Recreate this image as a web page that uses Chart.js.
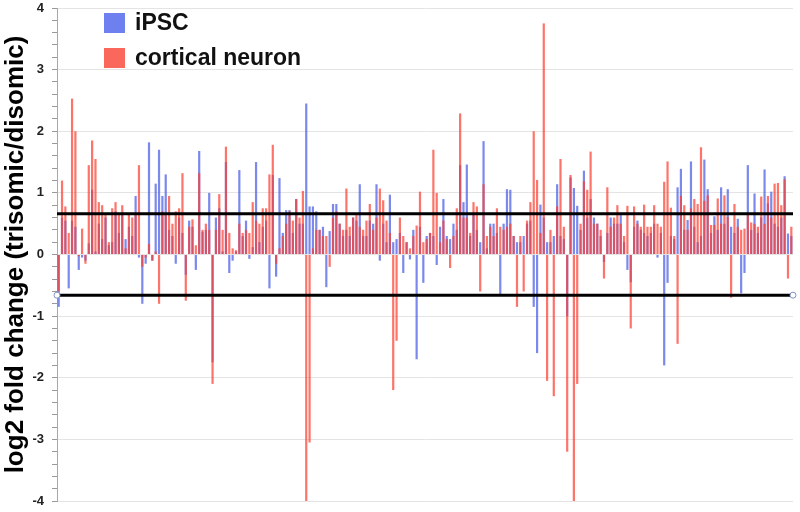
<!DOCTYPE html>
<html>
<head>
<meta charset="utf-8">
<script src="https://cdn.jsdelivr.net/npm/chart.js@4.4.1/dist/chart.umd.min.js"></script>
<style>
  html, body { margin: 0; padding: 0; background: #ffffff; }
  #wrap { position: relative; width: 800px; height: 512px; }
</style>
</head>
<body>
<div id="wrap"><canvas id="c" width="800" height="512"></canvas></div>
<script>
// ---- data ----
const seriesNames = ["iPSC", "cortical neuron"];

const ipsc = [
  -0.85, 0.6, 0.55, -0.55, 0.55, 0.45, -0.25, -0.05, -0.1, 0.18,
  1.05, 0.05, 0.5, 0.25, 0.6, 0.15, 0.2, 0.7, 0.35, 0.65,
  0.25, 0.45, 0.3, 0.95, -0.05, -0.8, -0.15, 1.82, -0.1, 1.15,
  1.7, 0.95, 1.3, 0.4, 0.3, -0.15, 0.6, 0.35, -0.33, 0.55,
  0.45, -0.25, 1.68, 0.37, 0.4, 1.0, -1.75, 0.6, 0.75, 0.05,
  1.5, -0.3, -0.1, 0.05, 1.37, 0.3, 0.55, -0.07, 0.12, 1.5,
  0.2, 0.45, 0.55, -0.55, 1.29, -0.36, 1.24, 0.35, 0.72, 0.72,
  0.35, 0.9, 0.5, 0.5, 2.45, 0.78, 0.78, 0.7, 0.4, 0.45,
  -0.53, 0.38, 0.82, 0.82, 0.5, 0.3, 0.4, 0.3, 0.6, 0.55,
  1.14, 0.3, 0.3, 0.55, 0.5, 1.14, -0.1, 0.5, 0.2, 0.97,
  0.2, 0.25, 0.35, -0.3, 0.2, -0.08, 0.4, -1.7, 0.45, -0.46,
  0.3, 0.35, 0.3, -0.17, 0.45, 0.9, 0.3, 0.25, 0.5, 0.4,
  1.45, 0.85, 1.46, 0.3, 0.65, 0.4, 0.2, 1.84, 0.1, 0.5,
  0.5, 0.35, -0.65, 0.5, 1.06, 1.05, 0.3, 0.2, 0.2, 0.3,
  0.5, 0.55, -0.85, -1.6, 0.81, 0.6, 0.2, 0.2, 0.3, 1.14,
  0.3, 0.25, -1.0, 1.25, 1.08, 0.79, 0.4, 1.36, 0.6, 0.9,
  0.6, 0.5, 0.3, -0.12, 0.35, 0.6, 0.5, 0.5, 0.64, 0.2,
  -0.25, -0.45, 0.45, 0.55, 0.4, 0.35, 0.3, 0.35, 0.5, -0.05,
  0.35, -1.8, -0.46, 0.3, 0.25, 1.09, 1.39, 0.4, 0.56, 1.51,
  0.45, 0.2, 0.3, 1.54, 1.06, 0.35, 0.62, 0.4, 1.09, 0.5,
  1.06, 0.45, 0.35, 0.58, -0.63, -0.3, 1.45, 0.4, 0.99, 0.35,
  0.6, 1.38, 0.83, 1.02, 0.5, 0.45, 0.6, 1.27, 0.34, 0.3
];

const corticalNeuron = [
  -0.6, 1.2, 0.78, 0.35, 2.53, 2.0, -0.03, 0.42, -0.15, 1.45,
  1.85, 1.55, 0.85, 0.8, 0.65, 0.2, 0.75, 0.85, 0.65, 0.8,
  0.1, 0.65, 0.6, 0.65, 1.45, -0.2, -0.05, 0.17, -0.1, 0.05,
  -0.8, 0.7, 0.65, 0.95, 0.5, 0.7, 0.75, 1.32, -0.75, 0.45,
  0.57, 0.15, 1.32, 0.4, 0.5, 0.4, -2.1, 0.4, 0.98, 0.4,
  1.75, 0.35, 0.1, 0.07, 0.5, 0.35, 0.4, 0.35, 0.85, 0.55,
  0.5, 0.75, 0.75, 1.3, 1.78, -0.15, 0.1, 0.3, 0.5, 0.7,
  0.55, 0.9, 0.6, 1.03, -4.0, -3.05, 0.1, 0.4, 0.4, 0.3,
  0.3, -0.2, 0.6, 0.7, 0.5, 0.4, 1.07, 0.45, 0.6, 0.65,
  0.45, 0.4, 0.55, 0.82, 0.4, 0.6, 1.07, 0.88, 0.55, 0.35,
  -2.2, -1.4, 0.6, 0.3, 0.2, 0.1, 0.3, 0.47, 1.02, 0.2,
  0.25, 0.35, 1.7, 1.0, 0.2, 0.55, 0.25, -0.22, 0.3, 0.75,
  2.29, 0.6, 0.6, 0.35, 0.85, 0.78, -0.6, 1.14, 0.3, 0.45,
  0.3, 0.75, 0.45, 0.4, 0.45, 0.5, 0.3, -0.85, 0.3, -0.6,
  0.55, 0.85, 2.0, 1.21, 0.35, 3.75, -2.05, 0.4, -2.3, 0.78,
  1.55, 0.45, -3.2, 1.29, -4.0, -2.1, 0.5, 1.19, 1.05, 1.67,
  0.5, 0.5, 0.4, -0.39, 1.09, 0.45, 0.6, 0.8, 0.5, 0.3,
  0.79, -1.2, 0.78, 0.5, 0.45, 0.81, 0.45, 0.45, 0.8, 0.5,
  0.45, 1.18, 1.51, 0.76, 0.3, -1.45, 0.95, 0.8, 0.4, 0.75,
  0.9, 0.82, 1.74, 0.87, 0.96, 0.48, 0.48, 0.91, 0.5, 0.96,
  0.61, -0.7, 0.82, 0.45, 0.4, 0.42, 0.64, 0.52, 0.5, 0.45,
  0.94, 0.5, 0.95, 0.6, 1.15, 1.16, 0.8, 1.22, -0.39, 0.45
];

const categories = ipsc.map((_, i) => "gene " + (i + 1));
const thresholds = [0.66, -0.66];
const yTickRange = [-4, 4];

// ---- styles ----
const blueFill = "rgba(72, 92, 228, 0.72)";
const redFill = "rgba(252, 62, 48, 0.72)";

const legendPlugin = {
  id: "customLegend",
  afterDraw(chart) {
    const ctx = chart.ctx;
    const items = [
      { label: seriesNames[0], color: "rgb(110,128,240)", y: 23 },
      { label: seriesNames[1], color: "rgb(250,104,92)", y: 58 }
    ];
    ctx.save();
    ctx.font = "bold 23px 'Liberation Sans', Arial, sans-serif";
    ctx.textBaseline = "middle";
    ctx.textAlign = "left";
    items.forEach(it => {
      ctx.fillStyle = it.color;
      ctx.fillRect(104, it.y - 10, 21, 20);
      ctx.fillStyle = "#111111";
      ctx.fillText(it.label, 135, it.y + 1);
    });
    ctx.restore();
  }
};

const isInt = v => Math.abs(v - Math.round(v)) < 1e-6;

new Chart(document.getElementById("c"), {
  type: "bar",
  data: {
    labels: categories,
    datasets: [
      {
        type: "line", label: "upper", xAxisID: "x2", order: 0,
        data: [{ x: 0, y: thresholds[0] }, { x: 1, y: thresholds[0] }],
        borderColor: "#000000", borderWidth: 3, pointRadius: 0, clip: false
      },
      {
        type: "line", label: "lower", xAxisID: "x2", order: 0,
        data: [{ x: 0, y: thresholds[1] }, { x: 1, y: thresholds[1] }],
        borderColor: "#000000", borderWidth: 3,
        pointRadius: 3, pointBorderWidth: 1,
        pointBorderColor: "#7f93c8", pointBackgroundColor: "#ffffff", clip: false
      },
      {
        label: seriesNames[1], data: corticalNeuron, order: 1,
        backgroundColor: redFill, grouped: false,
        barPercentage: 0.66, categoryPercentage: 1.0
      },
      {
        label: seriesNames[0], data: ipsc, order: 2,
        backgroundColor: blueFill, grouped: false,
        barPercentage: 0.66, categoryPercentage: 1.0
      }
    ]
  },
  options: {
    responsive: false,
    animation: false,
    layout: { padding: { top: 8, right: 7, bottom: 11, left: 0 } },
    plugins: { legend: { display: false }, tooltip: { enabled: false } },
    scales: {
      x: { type: "category", display: false, offset: true },
      x2: { type: "linear", display: false, min: 0, max: 1, offset: false },
      y: {
        min: yTickRange[0], max: yTickRange[1],
        afterFit(axis) {
          axis.width = 57;
          axis.paddingTop = 0;
          axis.paddingBottom = 0;
        },
        ticks: {
          stepSize: 0.2, autoSkip: false, padding: 8,
          color: "#222222",
          font: { family: "'Liberation Sans', Arial, sans-serif", size: 13, weight: "bold" },
          callback: v => isInt(v) ? String(Math.round(v)) : ""
        },
        grid: {
          color: ctx => isInt(ctx.tick.value) ? "#e4e4e4" : "rgba(0,0,0,0)",
          tickColor: "#9a9a9a",
          tickLength: 5,
          lineWidth: 1
        },
        border: { display: true, color: "#a8a8a8", width: 1 },
        title: {
          display: true,
          text: "log2 fold change (trisomic/disomic)",
          color: "#000000",
          padding: { top: 0, bottom: 0 },
          font: { family: "'Liberation Sans', Arial, sans-serif", size: 26, weight: "bold" }
        }
      }
    }
  },
  plugins: [legendPlugin]
});
</script>
</body>
</html>
